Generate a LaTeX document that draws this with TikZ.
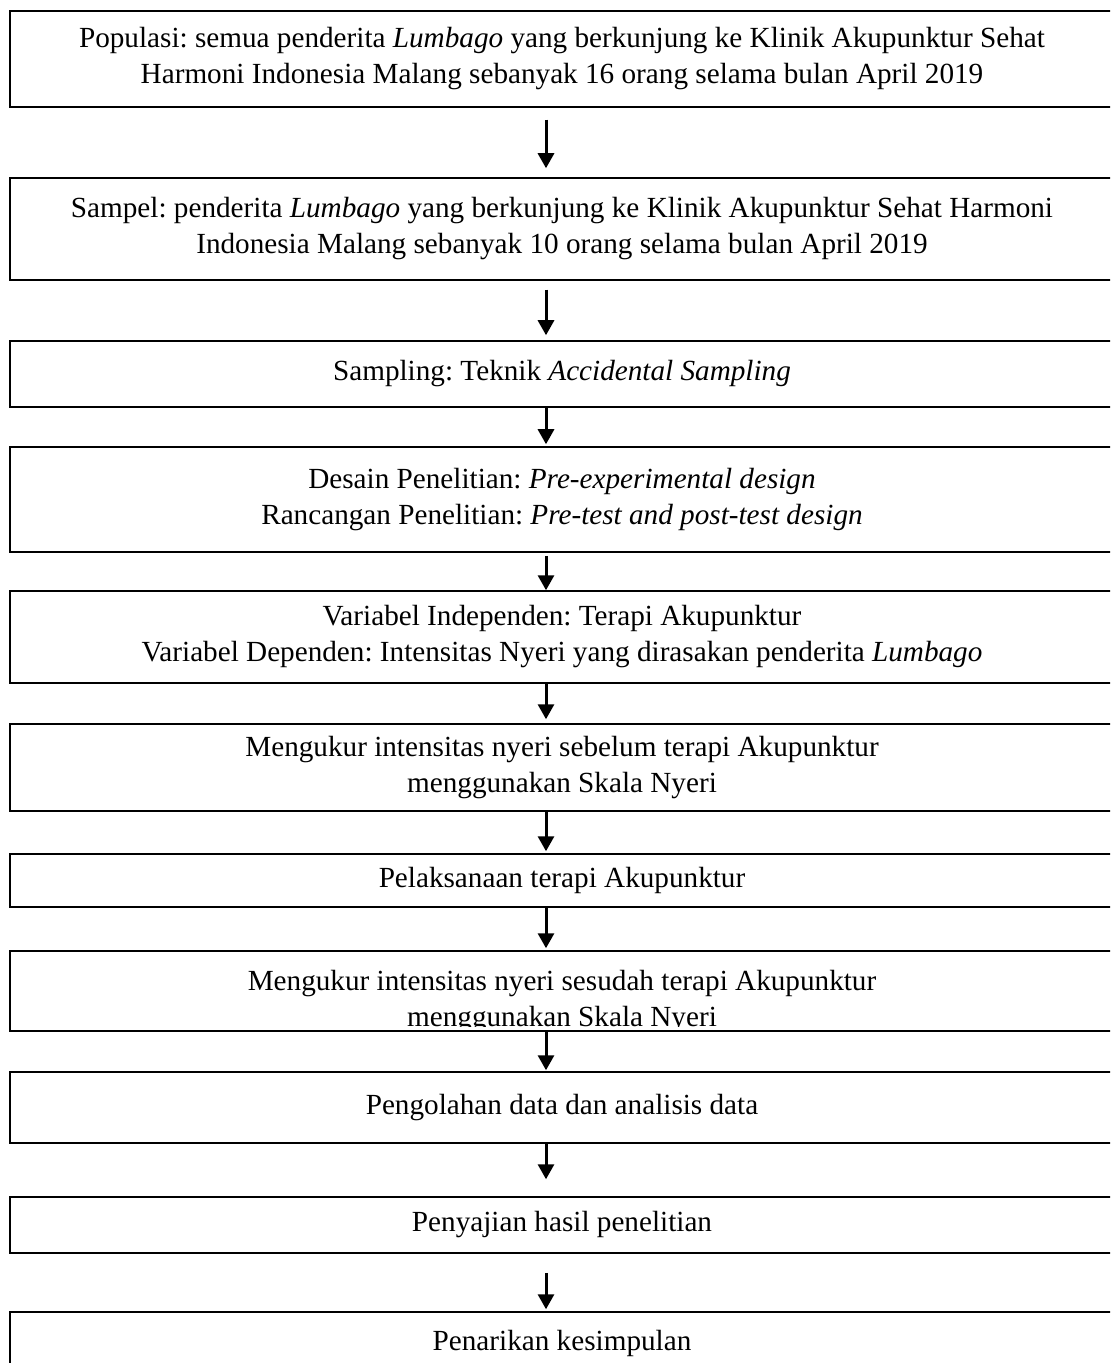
\documentclass[tikz,border=0pt]{standalone}
\usepackage{fontspec}
\setmainfont{Liberation Serif}
\usetikzlibrary{arrows.meta}
\frenchspacing

\begin{document}
\begin{tikzpicture}[x=0.5pt, y=-0.5pt,
		stepbox/.style={draw=black, line width=0.75pt, minimum width=552pt, inner sep=0pt, align=center, font=\fontsize{14.6}{18}\selectfont},
		flowarrow/.style={line width=1.5pt, -{Triangle[width=8pt,length=7.5pt]}}]
		\newcommand{\arrowX}{546}
		\newcommand{\boxX}{562}
		
		\useasboundingbox (0,0) rectangle (1110,1363);	% page
		\clip (0,0) rectangle (1110,1363);				% boxes run past the right and bottom edge
		\coordinate (arrowAxis) at (\arrowX,0);
		
		% steps
		\node[stepbox, minimum height=48pt] (populasi) at (\boxX,59) {Populasi: semua penderita \textit{Lumbago} yang berkunjung ke Klinik Akupunktur Sehat\\Harmoni Indonesia Malang sebanyak 16 orang selama bulan April 2019};
		\node[stepbox, minimum height=51pt] (sampel) at (\boxX,229) {Sampel: penderita \textit{Lumbago} yang berkunjung ke Klinik Akupunktur Sehat Harmoni\\Indonesia Malang sebanyak 10 orang selama bulan April 2019};
		\node[stepbox, minimum height=33pt] (sampling) at (\boxX,374) {Sampling: Teknik \textit{Accidental Sampling}};
		\node[stepbox, minimum height=52.5pt] (desain) at (\boxX,499.5) {Desain Penelitian: \textit{Pre-experimental design}\\Rancangan Penelitian: \textit{Pre-test and post-test design}};
		\node[stepbox, minimum height=46pt] (variabel) at (\boxX,637) {Variabel Independen: Terapi Akupunktur\\Variabel Dependen: Intensitas Nyeri yang dirasakan penderita \textit{Lumbago}};
		\node[stepbox, minimum height=43.5pt] (ukurSebelum) at (\boxX,767.5) {Mengukur intensitas nyeri sebelum terapi Akupunktur\\menggunakan Skala Nyeri};
		\node[stepbox, minimum height=26.5pt] (terapi) at (\boxX,880.5) {Pelaksanaan terapi Akupunktur};
		\node[stepbox, minimum height=40pt] (ukurSesudah) at (\boxX,991) {};
		\begin{scope}
			\clip (10,951) rectangle (1114,1026);		% second line is cut off
			\node[stepbox, draw=none, minimum width=0pt, anchor=north] (ukurSesudahText) at (\boxX,969) {Mengukur intensitas nyeri sesudah terapi Akupunktur\\menggunakan Skala Nyeri};
		\end{scope}
		\node[stepbox, minimum height=35.5pt] (olahData) at (\boxX,1107.5) {Pengolahan data dan analisis data};
		\node[stepbox, minimum height=28pt] (penyajian) at (\boxX,1225) {Penyajian hasil penelitian};
		\node[stepbox, minimum height=31pt] (kesimpulan) at (\boxX,1343) {Penarikan kesimpulan};
		
		% arrows
		\draw[flowarrow, shorten <=6pt, shorten >=4.5pt] (populasi.south -| arrowAxis) -- (sampel.north -| arrowAxis);
		\draw[flowarrow, shorten <=4.5pt, shorten >=2.5pt] (sampel.south -| arrowAxis) -- (sampling.north -| arrowAxis);
		\draw[flowarrow, shorten >=1pt] (sampling.south -| arrowAxis) -- (desain.north -| arrowAxis);
		\draw[flowarrow, shorten <=1.5pt] (desain.south -| arrowAxis) -- (variabel.north -| arrowAxis);
		\draw[flowarrow, shorten >=2pt] (variabel.south -| arrowAxis) -- (ukurSebelum.north -| arrowAxis);
		\draw[flowarrow, shorten >=1pt] (ukurSebelum.south -| arrowAxis) -- (terapi.north -| arrowAxis);
		\draw[flowarrow, shorten >=1pt] (terapi.south -| arrowAxis) -- (ukurSesudah.north -| arrowAxis);
		\draw[flowarrow, shorten >=0.5pt] (ukurSesudah.south -| arrowAxis) -- (olahData.north -| arrowAxis);
		\draw[flowarrow, shorten >=8.5pt] (olahData.south -| arrowAxis) -- (penyajian.north -| arrowAxis);
		\draw[flowarrow, shorten <=9.5pt, shorten >=1pt] (penyajian.south -| arrowAxis) -- (kesimpulan.north -| arrowAxis);
\end{tikzpicture}
\end{document}
